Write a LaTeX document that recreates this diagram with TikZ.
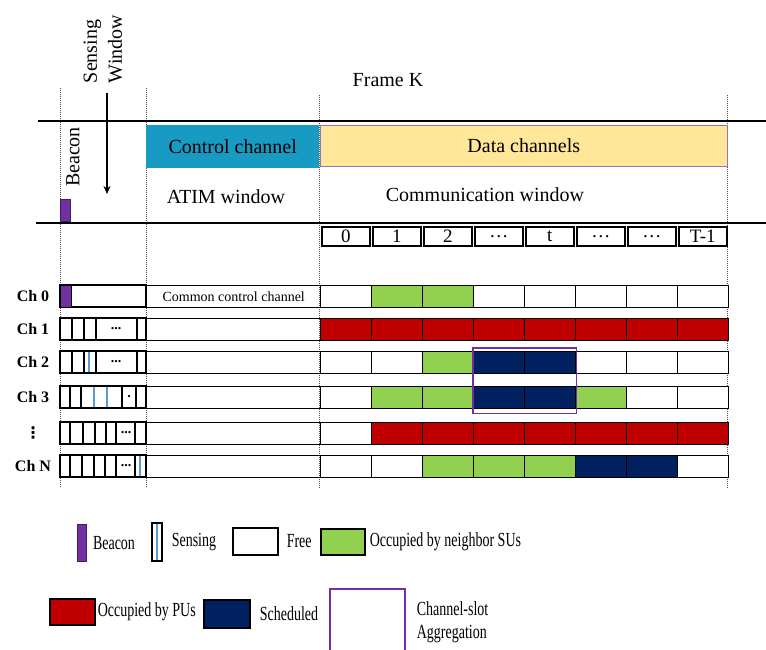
\documentclass[tikz,border=0pt]{standalone}
\usepackage{fontspec}
\setmainfont{Liberation Serif}
\newfontfamily\narrowserif[FakeStretch=0.7]{Liberation Serif}
\newfontfamily\dejavu{DejaVu Sans}
\definecolor{BeaconPurple}{HTML}{7030A0}
\definecolor{SenseBlue}{HTML}{5B9BD5}
\definecolor{CtrlTeal}{HTML}{179BC2}
\definecolor{DataGold}{HTML}{FFE699}
\definecolor{nbr}{HTML}{92D050}
\definecolor{pu}{HTML}{C00000}
\definecolor{sch}{HTML}{002060}
\colorlet{free}{white}
\usetikzlibrary{arrows.meta, positioning}

\begin{document}
\begin{tikzpicture}[x=1pt, y=-1pt,
    big/.style={font=\fontsize{20}{24}\selectfont, inner sep=0pt},
    legtext/.style={font=\narrowserif\fontsize{20}{23}\selectfont, inner sep=0pt, align=left},
    chlabel/.style={font=\fontsize{16}{18}\selectfont\bfseries, inner sep=0pt},
    hdrbox/.style={font=\fontsize{20}{24}\selectfont, inner sep=0pt, anchor=north west},
    slothead/.style={draw, line width=1.6pt, minimum width=48pt, minimum height=19pt,
      inner sep=0pt, anchor=north west, font=\fontsize{19}{20}\selectfont},
    datacell/.style={draw, line width=1.4pt, minimum width=51pt, minimum height=22pt,
      inner sep=0pt, anchor=north west},
    cellline/.style={line width=1.4pt},
    senseline/.style={SenseBlue, line width=2pt},
    swatch/.style={draw, line width=1.6pt, inner sep=0pt, anchor=north west},
    aggbox/.style={draw=BeaconPurple, line width=1.6pt},
    mainline/.style={line width=1.6pt},
    guide/.style={line width=0.9pt, black!70, dash pattern=on 1pt off 1pt},
    arr/.style={-{Stealth[length=8pt, width=7pt]}, line width=1.3pt}
  ]
  \useasboundingbox (0,0) rectangle (766,650);

  % time guides and frame lines
  \foreach \x/\t in {60/88, 146/88, 319/95, 727/95}
    \draw[guide] (\x,\t) -- (\x,488);
  \draw[mainline] (38,121) -- (766,121);
  \draw[mainline] (36,223) -- (766,223);

  % frame header
  \node[big] (frame) at (388,80) {Frame K};
  \node[big, rotate=90, align=left, font=\fontsize{20}{25}\selectfont] (sensewin) at (103,49) {Sensing\\Window};
  \coordinate (swtop) at (107,93);
  \coordinate (swbot) at (107,194);
  \draw[arr] (swtop) -- (swbot);
  \node[big, rotate=90] (bcntxt) at (73,157) {Beacon};
  \node[fill=BeaconPurple, draw=BeaconPurple!60!black, line width=0.6pt, minimum width=10pt,
    minimum height=22pt, inner sep=0pt, anchor=south west] (bcn) at (60,222) {};
  \node[hdrbox, fill=CtrlTeal, minimum width=173pt, minimum height=43pt] (ctrl) at (146,125) {Control channel};
  \node[hdrbox, fill=DataGold, draw=BeaconPurple!70, line width=0.6pt, minimum width=407pt,
    minimum height=41pt] (data) at (320,125) {Data channels};
  \node[big] (atim) at (226,197) {ATIM window};
  \node[big] (comm) at (485,195) {Communication window};

  % slot numbers
  \foreach \s [count=\i from 0] in {0,1,2,\dots,t,\dots,\dots,T-1}
    \node[slothead] (s\i) at (321+51*\i,226) {\s};

  % channel rows
  \foreach \r/\y/\lab/\cols in {
      0/285/{Ch 0}/{free,nbr,nbr,free,free,free,free,free},
      1/318/{Ch 1}/{pu,pu,pu,pu,pu,pu,pu,pu},
      2/351/{Ch 2}/{free,free,nbr,sch,sch,free,free,free},
      3/386/{Ch 3}/{free,nbr,nbr,sch,sch,nbr,free,free},
      4/422/{\dejavu ⋮}/{free,pu,pu,pu,pu,pu,pu,pu},
      5/455/{Ch N}/{free,free,nbr,nbr,nbr,sch,sch,free}}{
    \node[chlabel] (lab\r) at (33,\y+11) {\lab};
    \draw[cellline] (60,\y) rectangle (146,\y+22);
    \node[datacell, minimum width=174pt] (m\r) at (146,\y) {};
    \foreach \c [count=\i from 0] in \cols
      \node[datacell, fill=\c] (d\r-\i) at (320+51*\i,\y) {};
  }
  \node[font=\fontsize{14}{16}\selectfont, inner sep=0pt] (ccc) at (m0.center) {Common control channel};

  % sensing window slots
  \node[fill=BeaconPurple, draw, line width=1.4pt, minimum width=11pt, minimum height=22pt,
    inner sep=0pt, anchor=north west] (bc0) at (60,285) {};
  \foreach \y/\edges in {318/{72,84,96,137}, 351/{72,84,96,137},
      386/{70,81,94,107,122,136}, 422/{70,83,95,106,116,135}, 455/{70,82,94,105,116,135}}
    \foreach \e in \edges
      \draw[cellline] (\e,\y) -- (\e,\y+22);
  \foreach \x/\y/\t in {116/329/{...}, 116/362/{...}, 129/397/{.}, 126/433/{...}, 126/466/{...}}
    \node[font=\fontsize{14}{14}\selectfont\bfseries, inner sep=0pt] at (\x,\y) {\t};
  \foreach \x/\y in {89/351, 94/386, 107/386, 140/455}
    \draw[senseline] (\x,\y+1) -- (\x,\y+21);

  % channel-slot aggregation
  \draw[aggbox] ([yshift=3pt]d2-3.north west) rectangle ([yshift=-4pt]d3-4.south east);

  % legend
  \node[swatch, fill=BeaconPurple, draw=BeaconPurple!60!black, line width=0.8pt,
    minimum width=9pt, minimum height=37pt] (lgbeacon) at (77,524) {};
  \node[legtext, right=6pt of lgbeacon] (lgbeacontxt) {Beacon};
  \node[swatch, minimum width=10pt, minimum height=38pt] (lgsense) at (151,522) {};
  \draw[senseline, line width=1.4pt] ([yshift=-2pt]lgsense.north) -- ([yshift=2pt]lgsense.south);
  \node[legtext, right=9pt of lgsense] (lgsensetxt) {Sensing};
  \node[swatch, minimum width=45pt, minimum height=27pt] (lgfree) at (232,527) {};
  \node[legtext, right=8pt of lgfree] (lgfreetxt) {Free};
  \node[swatch, fill=nbr, minimum width=44pt, minimum height=26pt] (lgnbr) at (320,528) {};
  \node[legtext, right=4pt of lgnbr] (lgnbrtxt) {Occupied by neighbor SUs};
  \node[swatch, fill=pu, minimum width=45pt, minimum height=26pt] (lgpu) at (49,598) {};
  \node[legtext, right=2pt of lgpu] (lgputxt) {Occupied by PUs};
  \node[swatch, fill=sch, minimum width=46pt, minimum height=28pt] (lgsch) at (203,599) {};
  \node[legtext, right=9pt of lgsch] (lgschtxt) {Scheduled};
  \node[aggbox, inner sep=0pt, anchor=north west, minimum width=75pt, minimum height=66pt] (lgagg) at (329,588) {};
  \node[legtext, right=11pt of lgagg] (lgaggtxt) {Channel-slot\\Aggregation};
\end{tikzpicture}
\end{document}
